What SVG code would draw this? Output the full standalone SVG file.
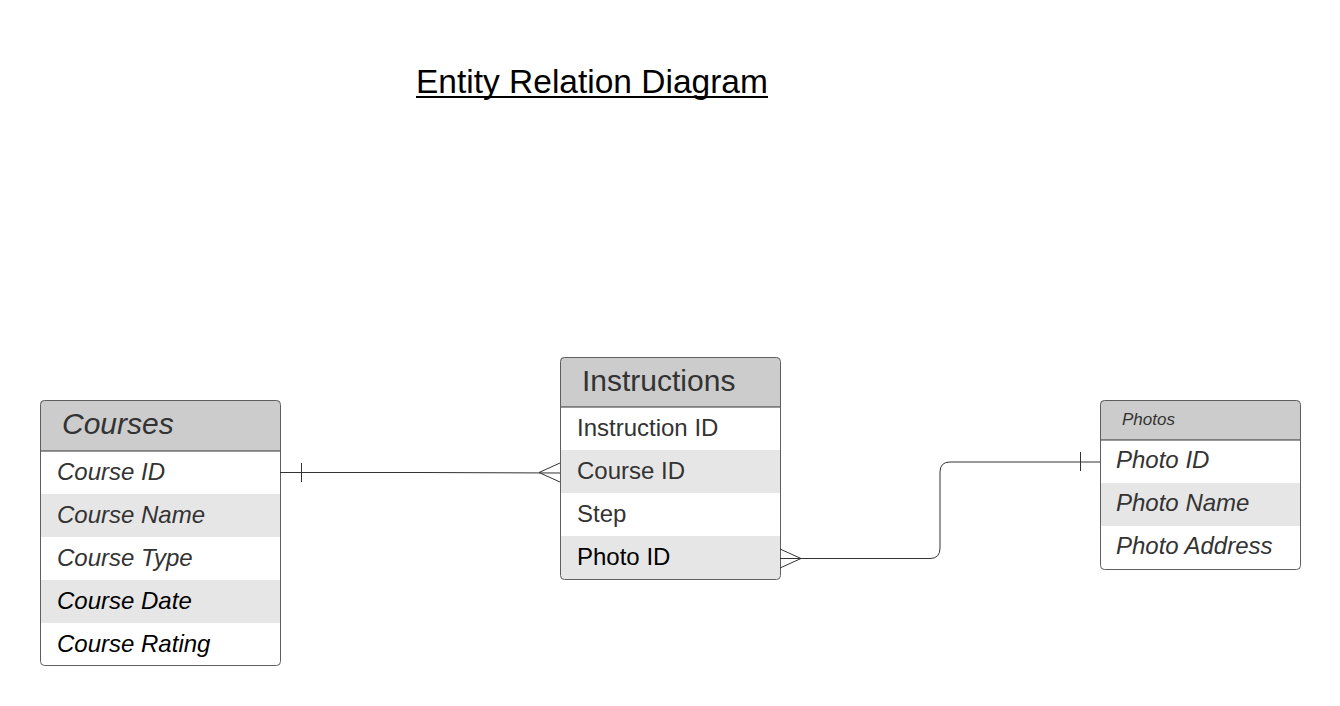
<svg xmlns="http://www.w3.org/2000/svg" width="1340" height="706" viewBox="0 0 1340 706">
<style>
  text { font-family: "Liberation Sans", Arial, sans-serif; }
  .hdr { fill: #cccccc; }
  .alt { fill: #e6e6e6; }
  .frame { fill: none; stroke: #5e5e5e; stroke-width: 1; }
  .sep { stroke: #333333; stroke-width: 1; }
  .row { font-size: 24px; fill: #333333; }
  .dark { fill: #000000; }
  .it { font-style: italic; }
  .head { font-size: 30px; fill: #333333; }
  .conn { fill: none; stroke: #333333; stroke-width: 1; }
</style>
<rect width="1340" height="706" fill="#ffffff"/>
<g id="title">
  <text x="416" y="93" font-size="33.5px" fill="#000000">Entity Relation Diagram</text>
  <line x1="416" y1="97" x2="768" y2="97" stroke="#000000" stroke-width="2"/>
</g>
<g id="courses">
  <rect x="40" y="400" width="240" height="265" rx="4" fill="#ffffff"/>
  <path class="hdr" d="M44,400 H276 A4,4 0 0 1 280,404 V451 H40 V404 A4,4 0 0 1 44,400 Z"/>
  <rect class="alt" x="40" y="494" width="240" height="43"/>
  <rect class="alt" x="40" y="580" width="240" height="43"/>
  <line class="sep" x1="40" y1="451" x2="280" y2="451"/>
  <rect class="frame" x="40.5" y="400.5" width="240" height="265" rx="4"/>
  <text class="head it" x="62" y="434">Courses</text>
  <text class="row it" x="57" y="480">Course ID</text>
  <text class="row it" x="57" y="523">Course Name</text>
  <text class="row it" x="57" y="566">Course Type</text>
  <text class="row it dark" x="57" y="609">Course Date</text>
  <text class="row it dark" x="57" y="652">Course Rating</text>
</g>
<g id="instructions">
  <rect x="560" y="357" width="220" height="222" rx="4" fill="#ffffff"/>
  <path class="hdr" d="M564,357 H776 A4,4 0 0 1 780,361 V407 H560 V361 A4,4 0 0 1 564,357 Z"/>
  <rect class="alt" x="560" y="450" width="220" height="43"/>
  <path class="alt" d="M560,536 H780 V575 A4,4 0 0 1 776,579 H564 A4,4 0 0 1 560,575 Z"/>
  <line class="sep" x1="560" y1="407" x2="780" y2="407"/>
  <rect class="frame" x="560.5" y="357.5" width="220" height="222" rx="4"/>
  <text class="head" x="582" y="391">Instructions</text>
  <text class="row" x="577" y="436">Instruction ID</text>
  <text class="row" x="577" y="479">Course ID</text>
  <text class="row" x="577" y="522">Step</text>
  <text class="row dark" x="577" y="565">Photo ID</text>
</g>
<g id="photos">
  <rect x="1100" y="400" width="200" height="169" rx="4" fill="#ffffff"/>
  <path class="hdr" d="M1104,400 H1296 A4,4 0 0 1 1300,404 V440 H1100 V404 A4,4 0 0 1 1104,400 Z"/>
  <rect class="alt" x="1100" y="483" width="200" height="43"/>
  <line class="sep" x1="1100" y1="440" x2="1300" y2="440"/>
  <rect class="frame" x="1100.5" y="400.5" width="200" height="169" rx="4"/>
  <text class="it" x="1122" y="425" font-size="17px" fill="#333333">Photos</text>
  <text class="row it" x="1116" y="468">Photo ID</text>
  <text class="row it" x="1116" y="511">Photo Name</text>
  <text class="row it" x="1116" y="554">Photo Address</text>
</g>
<g id="connectors">
  <path class="conn" d="M280,472.5 H420 L560,473"/>
  <line class="conn" x1="301.5" y1="463" x2="301.5" y2="482"/>
  <path class="conn" d="M560,463 L539,472.5 L560,482"/>
  <path class="conn" d="M780,558.5 H930 Q940,558.5 940,548 V472 Q940,462 950,462 H1100"/>
  <line class="conn" x1="1080.5" y1="452" x2="1080.5" y2="471"/>
  <path class="conn" d="M780,549 L801,558.5 L780,568"/>
</g>
</svg>
